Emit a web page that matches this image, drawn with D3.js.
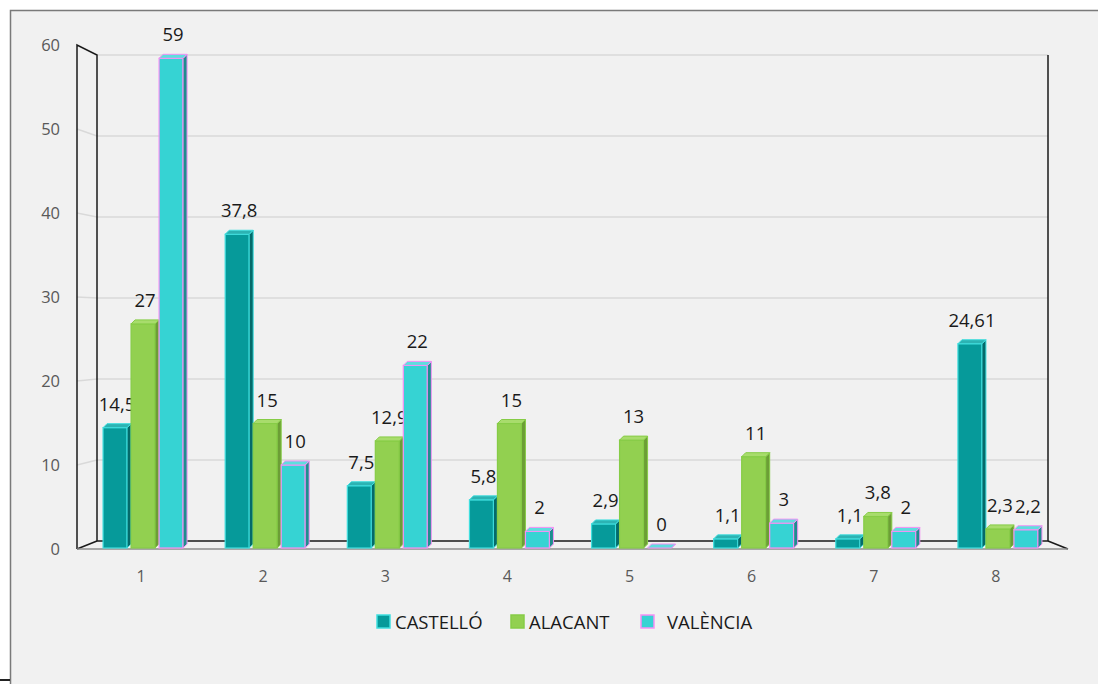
<!DOCTYPE html>
<html lang="ca">
<head>
    <meta charset="UTF-8">
    <title>Chart</title>
    <script src="https://d3js.org/d3.v7.min.js"></script>
    <style>
        html, body { margin: 0; padding: 0; background: #fff; }
        svg { display: block; font-family: 'Open Sans', 'Noto Sans', sans-serif; }
    </style>
</head>
<body>
<div class="content"></div>
<script>
    // data
    const categories = ["1", "2", "3", "4", "5", "6", "7", "8"];
    const seriesNames = ["CASTELLÓ", "ALACANT", "VALÈNCIA"];
    const castello = [14.5, 37.8, 7.5, 5.8, 2.9, 1.1, 1.1, 24.61];
    const alacant = [27, 15, 12.9, 15, 13, 11, 3.8, 2.3];
    const valencia = [59, 10, 22, 2, 0, 3, 2, 2.2];
    const yTicks = [0, 10, 20, 30, 40, 50, 60];

    const seriesValues = [castello, alacant, valencia];
    const colors = [
        { front: "#069a9a", side: "#046a6a", top: "#2cb3b3", stroke: "#3fdede" },
        { front: "#92d050", side: "#6c9e36", top: "#a8dc6c", stroke: "#86cc46" },
        { front: "#36d3d3", side: "#1e8e8e", top: "#5edede", stroke: "#f590f5" }
    ];

    const w = 1098, h = 684;
    const depth = 4;
    const font = "'Open Sans', 'Noto Sans', sans-serif";

    const svg = d3.select(".content")
        .append("svg")
        .attr("width", w)
        .attr("height", h);

    // frame + background
    svg.append("rect")
        .attr("x", 10).attr("y", 10)
        .attr("width", w - 10).attr("height", h - 10)
        .attr("fill", "#f1f1f1");
    svg.append("path")
        .attr("d", `M10.5,${h} L10.5,10.5 L${w},10.5`)
        .attr("fill", "none").attr("stroke", "#7a7a7a").attr("stroke-width", 1.5);
    svg.append("line")
        .attr("x1", 0).attr("x2", 10).attr("y1", 680).attr("y2", 680)
        .attr("stroke", "#222").attr("stroke-width", 2);

    // scales: front plane, back wall, and mid (bars)
    const yFront = d3.scaleLinear().domain([0, 60]).range([549, 45]);
    const yBack = d3.scaleLinear().domain([0, 60]).range([541, 55]);
    const yBar = d3.scaleLinear().domain([0, 60]).range([548, 50]);

    const x = d3.scaleBand().domain(categories).range([83, 1060]);
    const xInner = d3.scaleBand().domain(seriesNames).range([-41, 43]);

    const backL = 97, backR = 1048, frontL = 77, frontR = 1068;

    // gridlines on back wall
    svg.selectAll("line.grid")
        .data(yTicks.filter(d => d > 0))
        .enter()
        .append("line")
        .attr("class", "grid")
        .attr("x1", backL).attr("x2", backR)
        .attr("y1", d => yBack(d)).attr("y2", d => yBack(d))
        .attr("stroke", "#d9d9d9").attr("stroke-width", 1.5);
    svg.selectAll("line.gridside")
        .data(yTicks.filter(d => d > 0 && d < 60))
        .enter()
        .append("line")
        .attr("class", "gridside")
        .attr("x1", frontL).attr("x2", backL)
        .attr("y1", d => yFront(d)).attr("y2", d => yBack(d))
        .attr("stroke", "#d9d9d9").attr("stroke-width", 1.5);

    // walls
    svg.append("path")
        .attr("d", `M${frontL},${yFront(0)} L${frontL},${yFront(60)} L${backL},${yBack(60)} L${backL},${yBack(0)} L${backR},${yBack(0)} L${backR},${yBack(60)}`)
        .attr("fill", "none").attr("stroke", "#1a1a1a").attr("stroke-width", 1.5);
    svg.append("path")
        .attr("d", `M${frontL},${yFront(0)} L${backL},${yBack(0)} M${backR},${yBack(0)} L${frontR},${yFront(0)}`)
        .attr("fill", "none").attr("stroke", "#1a1a1a").attr("stroke-width", 1.5);
    svg.append("line")
        .attr("x1", frontL).attr("x2", frontR)
        .attr("y1", yFront(0)).attr("y2", yFront(0))
        .attr("stroke", "#8c8c8c").attr("stroke-width", 1.5);

    // bars
    const base = yBar(0);
    seriesNames.forEach(function (name, s) {
        const c = colors[s];
        const g = svg.append("g");
        const bars = g.selectAll("g.bar")
            .data(seriesValues[s].map((v, i) => ({ cat: categories[i], v: v })))
            .enter()
            .append("g")
            .attr("class", "bar");

        const bx = d => x(d.cat) + x.bandwidth() / 2 + xInner(name);
        const bw = xInner.bandwidth();

        bars.append("rect")
            .attr("x", d => bx(d))
            .attr("y", d => yBar(d.v))
            .attr("width", bw - depth)
            .attr("height", d => base - yBar(d.v))
            .attr("fill", c.front)
            .attr("stroke", c.stroke)
            .attr("stroke-width", 1.2);

        bars.append("path")
            .attr("d", d => {
                const x0 = bx(d) + bw - depth, yt = yBar(d.v);
                return `M${x0},${yt} L${x0 + depth},${yt - depth} L${x0 + depth},${base - depth} L${x0},${base} Z`;
            })
            .attr("fill", c.side)
            .attr("stroke", c.stroke)
            .attr("stroke-width", 1);

        bars.append("path")
            .attr("d", d => {
                const x0 = bx(d), yt = yBar(d.v);
                return `M${x0},${yt} L${x0 + depth},${yt - depth} L${x0 + bw},${yt - depth} L${x0 + bw - depth},${yt} Z`;
            })
            .attr("fill", c.top)
            .attr("stroke", c.stroke)
            .attr("stroke-width", 1);

        bars.append("text")
            .text(d => String(d.v).replace(".", ","))
            .attr("x", d => bx(d) + bw / 2)
            .attr("y", d => yBar(d.v) - 17)
            .attr("text-anchor", "middle")
            .attr("fill", "#1a1a1a")
            .attr("font-size", "18.5px");
    });

    // axes
    const yAxis = svg.append("g")
        .attr("transform", "translate(66,0)")
        .call(d3.axisLeft(yFront).tickValues(yTicks).tickSize(0).tickPadding(6));
    yAxis.select(".domain").remove();
    yAxis.selectAll("text")
        .attr("fill", "#595959")
        .attr("font-size", "16.5px")
        .attr("font-family", font);

    const xAxis = svg.append("g")
        .attr("transform", "translate(-3,571)")
        .call(d3.axisBottom(x).tickSize(0).tickPadding(0));
    xAxis.select(".domain").remove();
    xAxis.selectAll("text")
        .attr("fill", "#595959")
        .attr("font-size", "16px")
        .attr("font-family", font);

    // legend
    const legendX = [377, 511, 641];
    const legendTextX = [395, 529, 667];
    const legend = svg.selectAll("g.legend")
        .data(seriesNames)
        .enter()
        .append("g")
        .attr("class", "legend");
    legend.append("rect")
        .attr("x", (d, i) => legendX[i])
        .attr("y", 615)
        .attr("width", 13).attr("height", 13)
        .attr("fill", (d, i) => colors[i].front)
        .attr("stroke", (d, i) => colors[i].stroke)
        .attr("stroke-width", 1.5);
    legend.append("text")
        .text(d => d)
        .attr("x", (d, i) => legendTextX[i])
        .attr("y", 629)
        .attr("fill", "#1a1a1a")
        .attr("font-size", "18.5px");
</script>
</body>
</html>
